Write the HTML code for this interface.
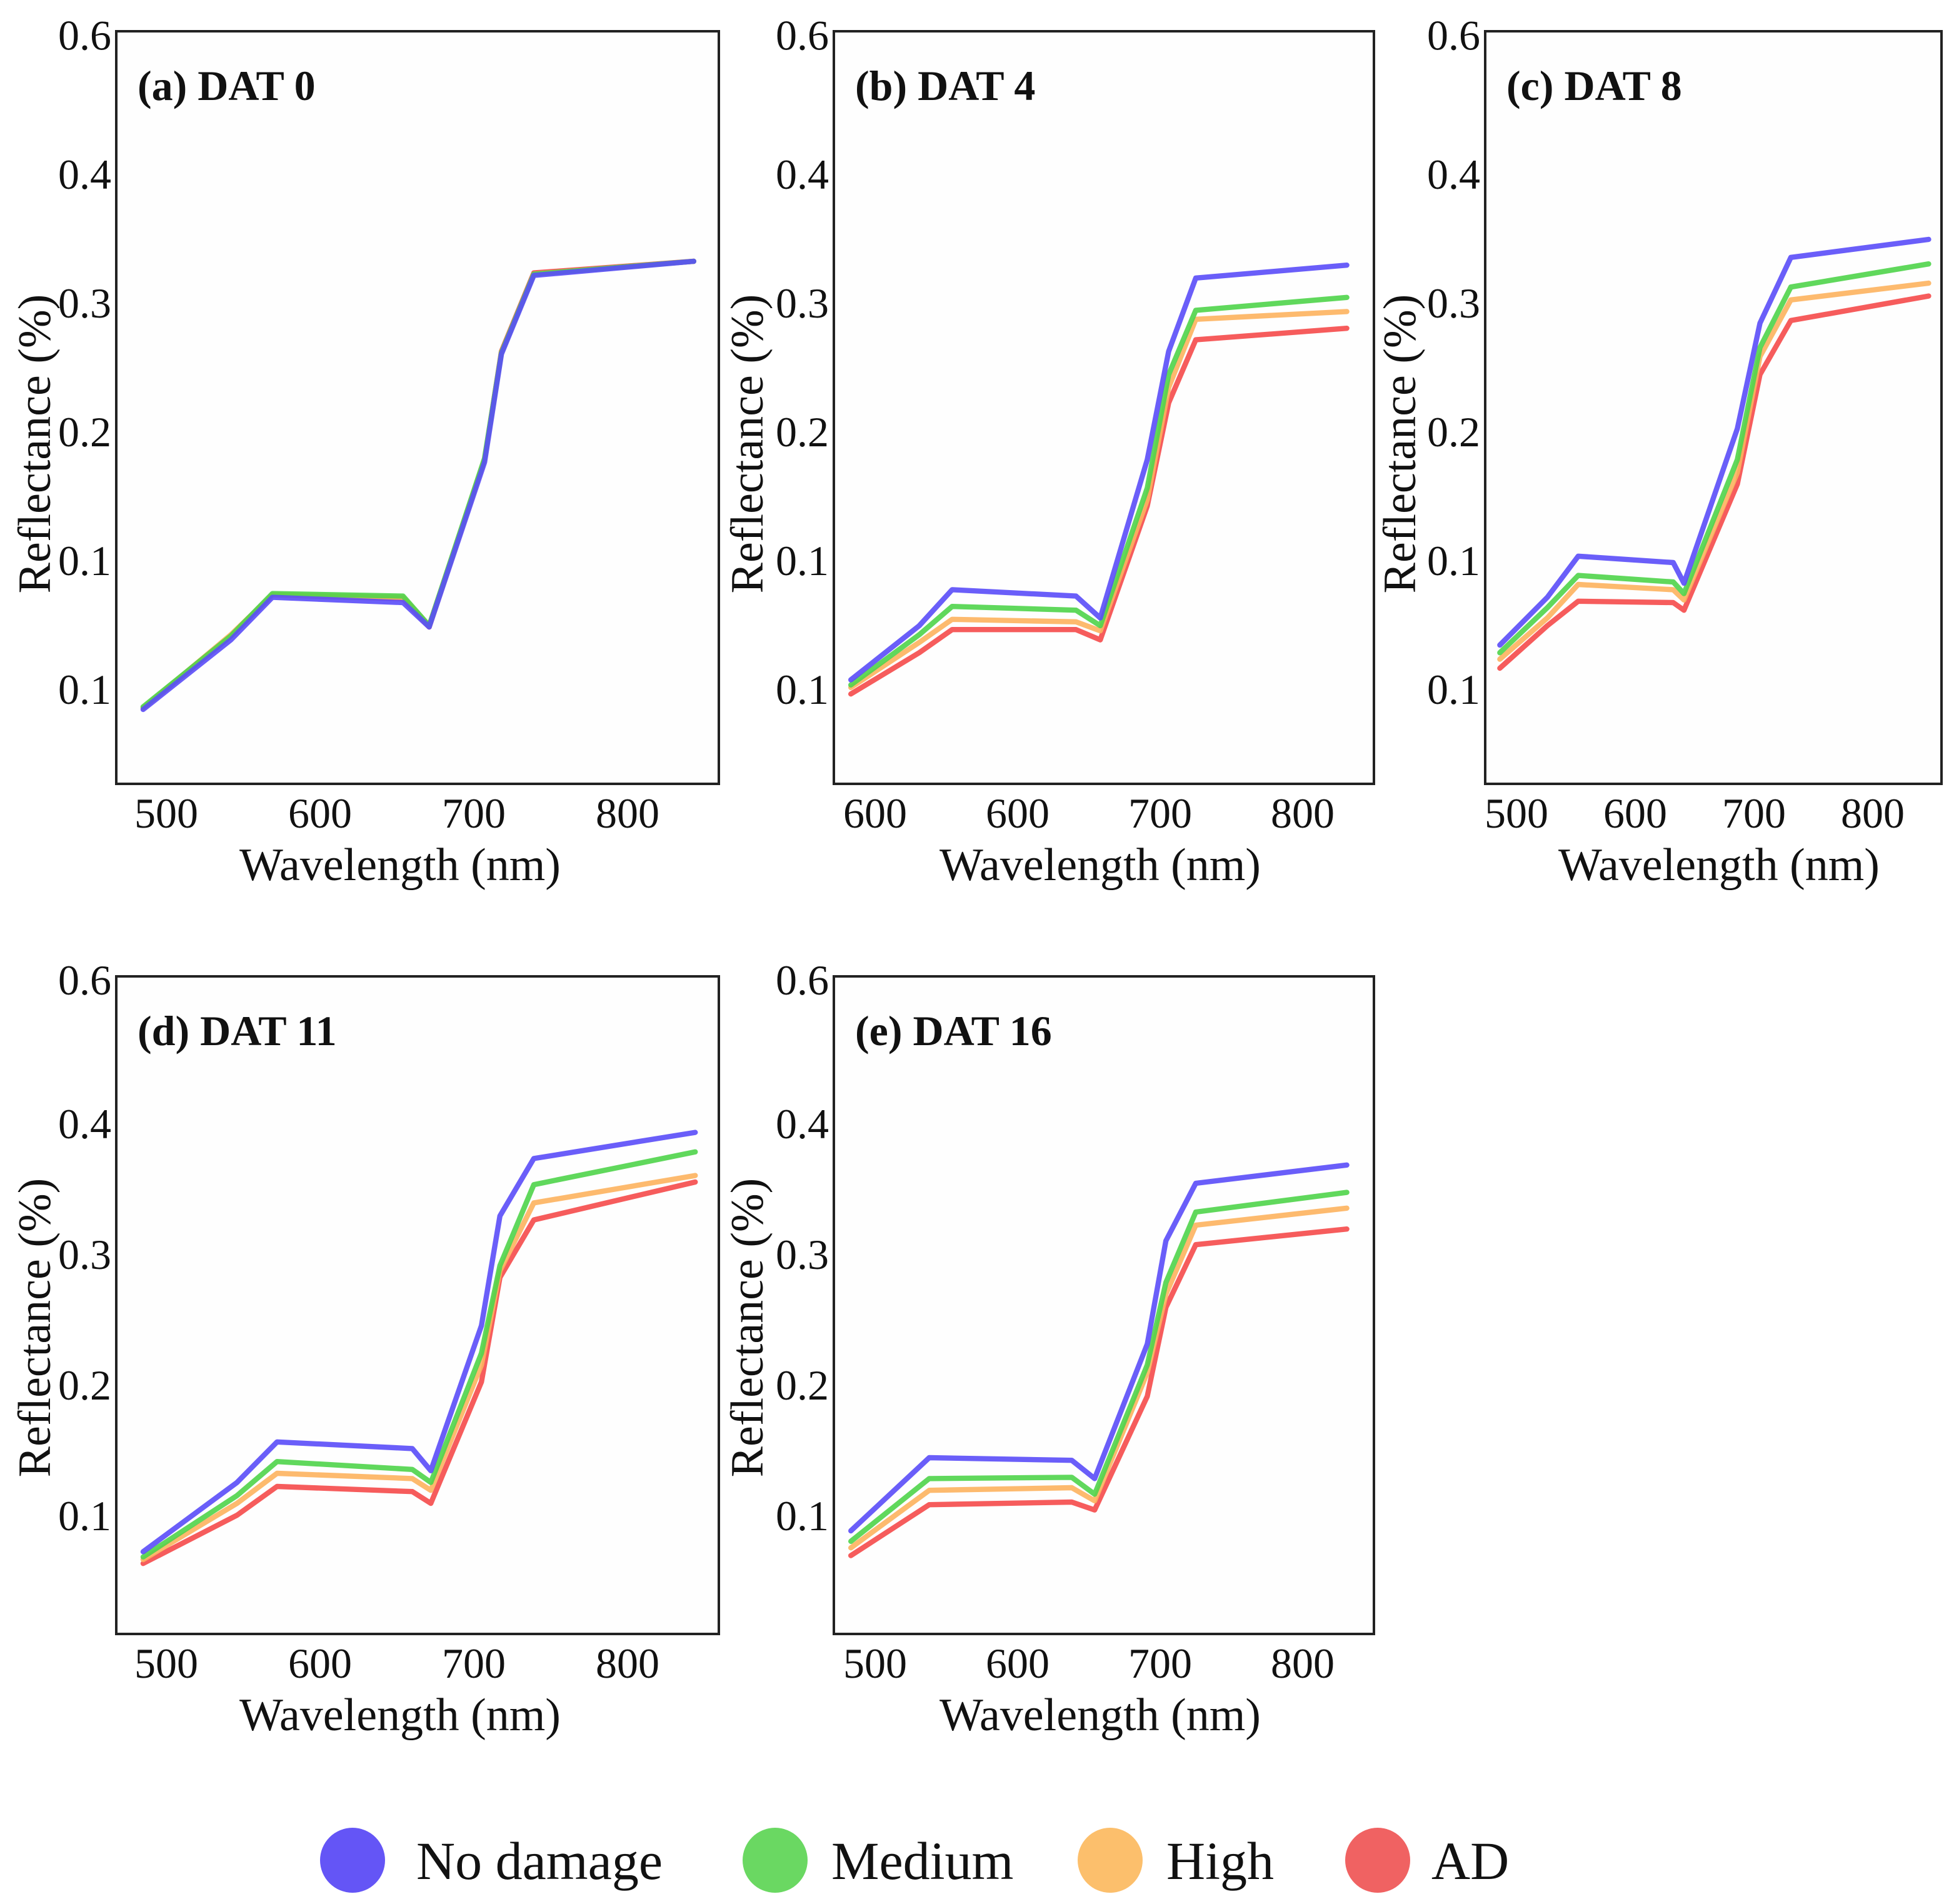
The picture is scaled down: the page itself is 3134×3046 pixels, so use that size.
<!DOCTYPE html>
<html><head><meta charset="utf-8"><title>Reflectance spectra by damage level</title>
<style>
html,body{margin:0;padding:0;background:#fff;}
svg{display:block;font-family:"Liberation Serif",serif;}
</style></head>
<body>
<svg id="fig" width="3134" height="3046" viewBox="0 0 1567 1523" xmlns="http://www.w3.org/2000/svg"></svg>
<script>
// ---- data ----
const seriesNames = ["No damage","Medium","High","AD"];
const panelTitles = ["(a) DAT 0","(b) DAT 4","(c) DAT 8","(d) DAT 11","(e) DAT 16"];
const xTickValues = [500,600,700,800];
const xTickLabelsA = ["500","600","700","800"];
const xTickLabelsB = ["600","600","700","800"];
const yTickValuesRow1 = [0.0,0.1,0.2,0.3,0.4,0.508];
const yTickLabelsRow1 = ["0.1","0.1","0.2","0.3","0.4","0.6"];
const yTickValuesRow2 = [0.1,0.2,0.3,0.4,0.51];
const yTickLabelsRow2 = ["0.1","0.2","0.3","0.4","0.6"];

const waveA = [485,542,569,654,671,707,718,739,843];
const aNoDamage = [-0.015,0.039,0.072,0.068,0.049,0.177,0.261,0.322,0.333];
const aMedium   = [-0.013,0.042,0.075,0.073,0.050,0.180,0.262,0.323,0.333];
const aHigh     = [-0.014,0.043,0.074,0.072,0.050,0.179,0.262,0.323,0.333];
const aAD       = [-0.014,0.042,0.074,0.071,0.049,0.179,0.263,0.324,0.333];

const waveB = [483,531,554,641,658,691,706,725,831];
const bNoDamage = [0.008,0.050,0.078,0.073,0.056,0.179,0.263,0.320,0.330];
const bMedium   = [0.004,0.043,0.065,0.062,0.050,0.157,0.245,0.295,0.305];
const bHigh     = [0.002,0.037,0.055,0.053,0.046,0.148,0.235,0.288,0.294];
const bAD       = [-0.003,0.029,0.047,0.047,0.039,0.143,0.223,0.272,0.281];

const waveC = [486,526,552,632,641,686,705,731,847];
const cNoDamage = [0.035,0.072,0.104,0.099,0.083,0.203,0.285,0.336,0.350];
const cMedium   = [0.029,0.064,0.089,0.084,0.075,0.179,0.266,0.313,0.331];
const cHigh     = [0.024,0.056,0.082,0.078,0.070,0.169,0.259,0.303,0.316];
const cAD       = [0.017,0.050,0.069,0.068,0.062,0.160,0.245,0.287,0.306];

const waveD = [485,546,572,660,672,705,717,739,844];
const dNoDamage = [0.073,0.126,0.157,0.152,0.135,0.246,0.330,0.374,0.394];
const dMedium   = [0.069,0.116,0.142,0.136,0.126,0.225,0.292,0.354,0.379];
const dHigh     = [0.067,0.110,0.133,0.129,0.120,0.216,0.288,0.340,0.361];
const dAD       = [0.064,0.101,0.123,0.119,0.110,0.203,0.283,0.327,0.356];

const waveE = [483,538,638,654,691,704,725,831];
const eNoDamage = [0.089,0.145,0.143,0.129,0.232,0.311,0.355,0.369];
const eMedium   = [0.081,0.129,0.130,0.117,0.216,0.279,0.333,0.348];
const eHigh     = [0.076,0.120,0.122,0.112,0.210,0.270,0.323,0.336];
const eAD       = [0.070,0.109,0.111,0.105,0.192,0.260,0.308,0.320];

// ---- layout ----
const lineColors = ["#5a4cf8","#4fd44a","#fdb25e","#f54a4a"];
const dotColors = ["#6455f6","#6ad862","#fcbf6c","#f06262"];
const panels = [
  {L:93,R:575,T:25,B:627,x0:133,xs:1.23,y0:449,yv:0.1,ys:1030,wave:waveA,s:[aNoDamage,aMedium,aHigh,aAD],xl:xTickLabelsA,yt:yTickValuesRow1,yl:yTickLabelsRow1,xlab:320,ylab:28,ymid:355},
  {L:667,R:1099,T:25,B:627,x0:700,xs:1.14,y0:449,yv:0.1,ys:1030,wave:waveB,s:[bNoDamage,bMedium,bHigh,bAD],xl:xTickLabelsB,yt:yTickValuesRow1,yl:yTickLabelsRow1,xlab:880,ylab:598,ymid:355},
  {L:1188,R:1553,T:25,B:627,x0:1213,xs:0.95,y0:449,yv:0.1,ys:1030,wave:waveC,s:[cNoDamage,cMedium,cHigh,cAD],xl:xTickLabelsA,yt:yTickValuesRow1,yl:yTickLabelsRow1,xlab:1375,ylab:1120,ymid:355},
  {L:93,R:575,T:781,B:1307,x0:133,xs:1.23,y0:1213,yv:0.1,ys:1045,wave:waveD,s:[dNoDamage,dMedium,dHigh,dAD],xl:xTickLabelsA,yt:yTickValuesRow2,yl:yTickLabelsRow2,xlab:320,ylab:28,ymid:1062},
  {L:667,R:1099,T:781,B:1307,x0:700,xs:1.14,y0:1213,yv:0.1,ys:1045,wave:waveE,s:[eNoDamage,eMedium,eHigh,eAD],xl:xTickLabelsA,yt:yTickValuesRow2,yl:yTickLabelsRow2,xlab:880,ylab:598,ymid:1062}
];
const NS="http://www.w3.org/2000/svg";
const svg=document.getElementById('fig');
function mk(tag,attrs,parent){const e=document.createElementNS(NS,tag);for(const k in attrs)e.setAttribute(k,attrs[k]);(parent||svg).appendChild(e);return e;}

panels.forEach((p,i)=>{
  const xScale=w=>p.x0+(w-500)*p.xs;
  const yScale=v=>p.y0-(v-p.yv)*p.ys;
  const g=mk('g',{});
  
  
  const fr=mk('rect',{x:p.L,y:p.T,width:p.R-p.L,height:p.B-p.T,fill:'#fefefe',stroke:'#222','stroke-width':2},g);
  
  
  p.yt.forEach((v,j)=>{
    const t=mk('text',{x:p.L-4,y:yScale(v)+11,'text-anchor':'end','font-size':34,fill:'#111'},g);
    t.textContent=p.yl[j];
    
    
  });
  xTickValues.forEach((w,j)=>{
    const t=mk('text',{x:xScale(w),y:p.B+35,'text-anchor':'middle','font-size':34,fill:'#111'},g);
    t.textContent=p.xl[j];
    
    
  });
  const xt=mk('text',{x:p.xlab,y:p.B+77,'text-anchor':'middle','font-size':37,fill:'#111'},g);
  xt.textContent='Wavelength (nm)';
  
  
  const yt=mk('text',{x:0,y:0,'text-anchor':'middle','font-size':37,fill:'#111',transform:`translate(${p.ylab+12},${p.ymid}) rotate(-90)`},g);
  yt.textContent='Reflectance (%)';
  
  
  const tt=mk('text',{x:p.L+17,y:p.T+55,'font-size':34,'font-weight':'bold',fill:'#111'},g);
  tt.textContent=panelTitles[i];
  
  
  [3,2,1,0].forEach(k=>{
    const vals=p.s[k];
    const pts=p.wave.map((w,j)=>xScale(w).toFixed(1)+','+yScale(vals[j]).toFixed(1)).join(' ');
    const pl=mk('polyline',{points:pts,fill:'none',stroke:lineColors[k],'stroke-width':4.2,'stroke-linejoin':'round','stroke-linecap':'round',opacity:0.9},g);
    
    
  });
});

// legend
const legendDotX=[282,620,888,1102];
const legendTextX=[333,665,933,1145];
const lg=mk('g',{});


seriesNames.forEach((n,k)=>{
  const c=mk('circle',{cx:legendDotX[k],cy:1488,r:26,fill:dotColors[k]},lg);
  
  
  const t=mk('text',{x:legendTextX[k],y:1503,'font-size':43,fill:'#111'},lg);
  t.textContent=n;
  
  
});
</script>
</body></html>
